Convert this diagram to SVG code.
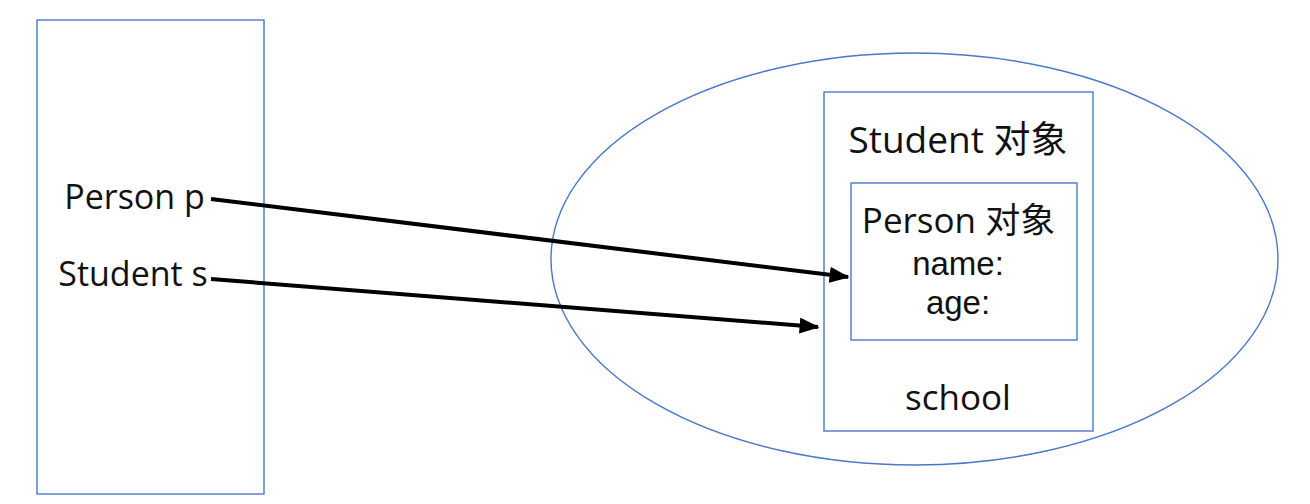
<svg xmlns="http://www.w3.org/2000/svg" width="1310" height="504" viewBox="0 0 1310 504">
<defs>
<style>
.box{fill:none;stroke:#4a78c8;stroke-width:1.4}
.t{font-family:"Open Sans","Noto Sans CJK SC",sans-serif;fill:#111;text-anchor:middle}
.f{font-family:"Liberation Sans",Arial,sans-serif;fill:#111;text-anchor:middle}
.c{stroke:#000;stroke-width:4;fill:none;marker-end:url(#ah)}
</style>
<marker id="ah" markerWidth="5" markerHeight="4" refX="4.6" refY="2" orient="auto" markerUnits="strokeWidth">
<path d="M0,0 L5,2 L0,4 z" fill="#000"/>
</marker>
</defs>
<rect width="1310" height="504" fill="#fff"/>
<g id="stack">
<rect class="box" x="37" y="20" width="227" height="474"/>
<text class="t" x="134.5" y="209" font-size="34">Person p</text>
<text class="t" x="133" y="286" font-size="34">Student s</text>
</g>
<g id="heap">
<ellipse class="box" cx="914.5" cy="259" rx="363.5" ry="206"/>
</g>
<g id="student-object">
<rect class="box" x="824" y="92" width="269" height="339"/>
<text class="t" x="958" y="153" font-size="37">Student 对象</text>
<text class="t" x="958" y="410" font-size="35">school</text>
</g>
<g id="person-object">
<rect class="box" x="851" y="183" width="226" height="157"/>
<text class="t" x="958.5" y="233" font-size="35">Person 对象</text>
<text class="f" x="958" y="275" font-size="33">name:</text>
<text class="f" x="958" y="314" font-size="33">age:</text>
</g>
<g id="connectors">
<line class="c" x1="211" y1="199" x2="848" y2="277"/>
<line class="c" x1="211" y1="279" x2="818" y2="327"/>
</g>
</svg>
